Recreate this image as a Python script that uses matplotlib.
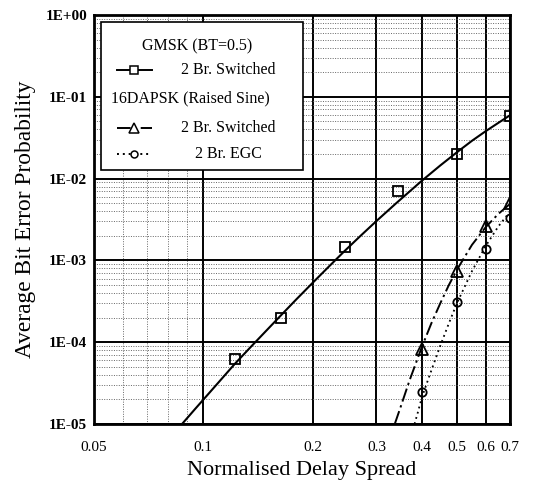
import numpy as np
import matplotlib
matplotlib.use("Agg")
import matplotlib.pyplot as plt
from matplotlib.ticker import FixedLocator, NullFormatter, LogLocator
from matplotlib.patches import Rectangle
from matplotlib.lines import Line2D

# ---- data ----
# GMSK (BT=0.5), 2 Br. Switched: simulated points and fitted curve
gmsk_x = [0.122, 0.164, 0.245, 0.344, 0.5, 0.7]
gmsk_y = [6.2e-5, 1.95e-4, 1.45e-3, 7.0e-3, 2.0e-2, 5.9e-2]
gmsk_fit_x = [0.0874, 0.095, 0.1, 0.11, 0.122, 0.135, 0.15, 0.165, 0.18, 0.2, 0.22,
              0.245, 0.27, 0.3, 0.34, 0.4, 0.45, 0.5, 0.55, 0.6, 0.65, 0.7]
gmsk_fit_y = [1.0e-5, 1.53e-5, 1.98e-5, 3.2e-5, 5.4e-5, 8.7e-5, 1.42e-4, 2.21e-4,
              3.3e-4, 5.3e-4, 8.1e-4, 1.3e-3, 1.96e-3, 3.03e-3, 5.0e-3, 9.4e-3,
              1.45e-2, 2.1e-2, 2.9e-2, 3.8e-2, 4.8e-2, 5.95e-2]

# 16DAPSK (Raised Sine), 2 Br. Switched
dapsk_sw_x = [0.4, 0.5, 0.6, 0.7]
dapsk_sw_y = [8.3e-5, 7.5e-4, 2.6e-3, 5.0e-3]
dapsk_sw_fit_x = [0.337, 0.35, 0.37, 0.4, 0.425, 0.45, 0.475, 0.5, 0.55, 0.6, 0.65, 0.7]
dapsk_sw_fit_y = [1.0e-5, 1.63e-5, 3.4e-5, 8.7e-5, 1.7e-4, 3.0e-4, 5.0e-4, 7.7e-4,
                  1.55e-3, 2.55e-3, 3.7e-3, 4.9e-3]

# 16DAPSK (Raised Sine), 2 Br. EGC
dapsk_egc_x = [0.4, 0.5, 0.6, 0.7]
dapsk_egc_y = [2.45e-5, 3.1e-4, 1.38e-3, 3.3e-3]
dapsk_egc_fit_x = [0.382, 0.39, 0.4, 0.42, 0.45, 0.475, 0.5, 0.55, 0.6, 0.65, 0.7]
dapsk_egc_fit_y = [1.0e-5, 1.38e-5, 2.1e-5, 3.9e-5, 9.1e-5, 1.7e-4, 3.0e-4, 7.4e-4,
                   1.5e-3, 2.6e-3, 3.95e-3]

x_ticks = [0.05, 0.1, 0.2, 0.3, 0.4, 0.5, 0.6, 0.7]
x_tick_labels = ["0.05", "0.1", "0.2", "0.3", "0.4", "0.5", "0.6", "0.7"]
x_minor = [0.06, 0.07, 0.08, 0.09]
y_ticks = [1e-5, 1e-4, 1e-3, 1e-2, 1e-1, 1e0]
y_tick_labels = ["1E-05", "1E-04", "1E-03", "1E-02", "1E-01", "1E+00"]

legend_head1 = "GMSK (BT=0.5)"
legend_head2 = "16DAPSK (Raised Sine)"
legend_labels = ["2 Br. Switched", "2 Br. Switched", "2 Br. EGC"]

plt.rcParams['font.family'] = ["Liberation Serif", "DejaVu Serif"]

fig = plt.figure(figsize=(5.46, 4.92), dpi=100)
ax = fig.add_axes([94/546, 1-424/492, 416/546, 409/492])
ax.set_xscale('log')
ax.set_yscale('log')
ax.set_xlim(0.05, 0.7)
ax.set_ylim(1e-5, 1.0)

ax.xaxis.set_major_locator(FixedLocator(x_ticks))
ax.set_xticklabels(x_tick_labels)
ax.xaxis.set_minor_locator(FixedLocator(x_minor))
ax.xaxis.set_minor_formatter(NullFormatter())
ax.yaxis.set_major_locator(FixedLocator(y_ticks))
ax.set_yticklabels(y_tick_labels)
ax.yaxis.set_minor_locator(LogLocator(base=10, subs=np.arange(2, 10), numticks=50))
ax.yaxis.set_minor_formatter(NullFormatter())

ax.grid(which='major', color='black', linewidth=1.4, linestyle='-')
ax.grid(which='minor', axis='both', color='#666666', linewidth=0.7, linestyle=(0, (1, 1.5)))
ax.set_axisbelow(True)

ax.tick_params(which='both', length=0)
ax.tick_params(axis='x', pad=12, labelsize=11)
ax.tick_params(axis='y', pad=5, labelsize=11)
for lab in ax.get_yticklabels():
    lab.set_fontweight('bold')

for s in ax.spines.values():
    s.set_linewidth(2.0)
    s.set_color('black')

dashdot = (0, (7, 2, 1.2, 2))
dotted = (0, (1, 2))
ax.plot(gmsk_fit_x, gmsk_fit_y, color='black', lw=1.5, ls='-', zorder=3)
ax.plot(dapsk_sw_fit_x, dapsk_sw_fit_y, color='black', lw=1.4, ls=dashdot, zorder=3)
ax.plot(dapsk_egc_fit_x, dapsk_egc_fit_y, color='black', lw=1.3, ls=dotted, zorder=3)

mk = dict(color='black', markerfacecolor='none', markeredgewidth=1.3, ls='none', zorder=4)
ax.plot(gmsk_x, gmsk_y, marker='s', markersize=7, **mk)
ax.plot(dapsk_sw_x, dapsk_sw_y, marker='^', markersize=8, **mk)
ax.plot(dapsk_egc_x, dapsk_egc_y, marker='o', markersize=6, **mk)

ax.set_xlabel("Normalised Delay Spread", fontsize=16, labelpad=5)
ax.set_ylabel("Average Bit Error Probability", fontsize=16.8, labelpad=7)

# legend box (manual, axes fraction)
tr = ax.transAxes
ax.add_patch(Rectangle((0.017, 0.621), 0.485, 0.362, transform=tr, facecolor='white',
                       edgecolor='black', linewidth=1.2, zorder=6))
fs = 11.5
ax.text(0.248, 0.924, legend_head1, transform=tr, ha='center', va='center', fontsize=fs, zorder=7)
ax.text(0.231, 0.795, legend_head2, transform=tr, ha='center', va='center', fontsize=fs, zorder=7)
rows = [0.866, 0.724, 0.660]
styles = [('-', 's', 6), (dashdot, '^', 6.5), (dotted, 'o', 5)]
for ry, lab, (ls, m, ms) in zip(rows, legend_labels, styles):
    ax.add_line(Line2D([0.055, 0.139], [ry, ry], transform=tr, color='black', lw=1.4, ls=ls, zorder=7))
    ax.add_line(Line2D([0.097], [ry], transform=tr, color='black', marker=m, markersize=ms,
                       markerfacecolor='white', markeredgewidth=1.1, ls='none', zorder=8))
    ax.text(0.322, ry, lab, transform=tr, ha='center', va='center', fontsize=fs, zorder=7)

fig.savefig("out.png", dpi=100)
